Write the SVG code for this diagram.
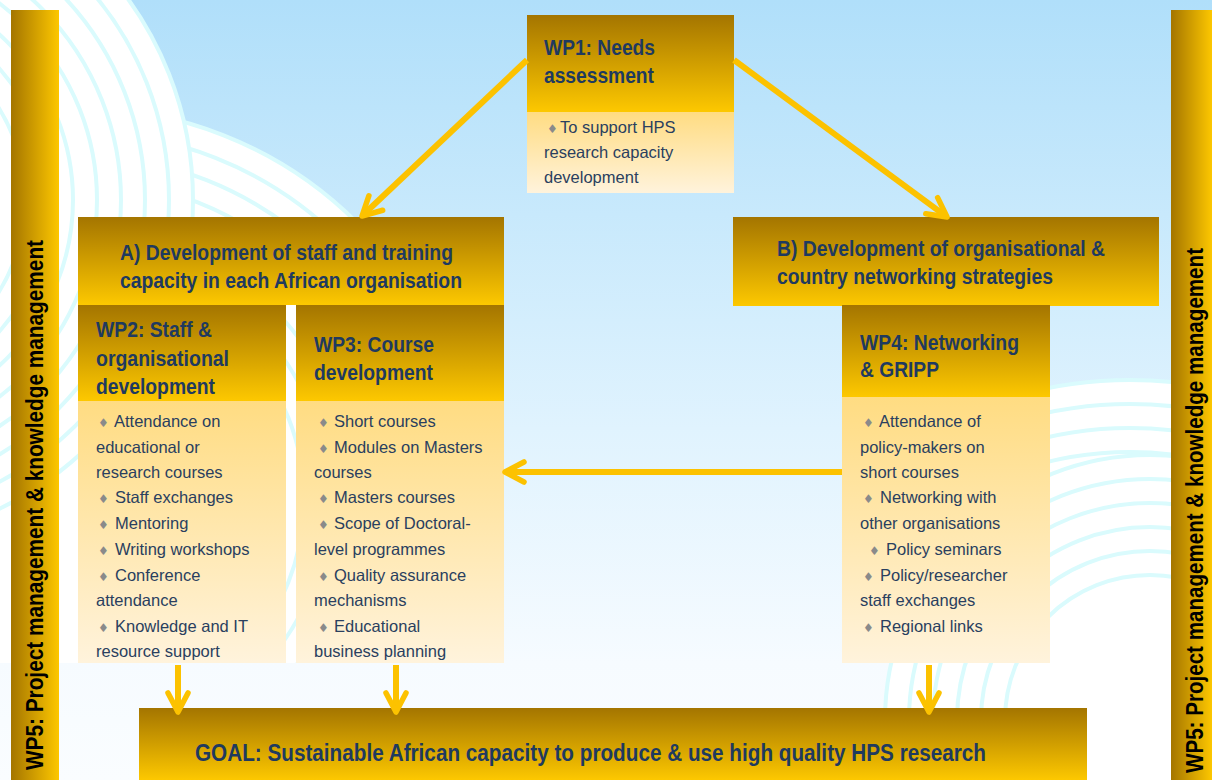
<svg xmlns="http://www.w3.org/2000/svg" width="1212" height="780" viewBox="0 0 1212 780">
<defs>
  <linearGradient id="bg" x1="0" y1="0" x2="0" y2="1">
    <stop offset="0" stop-color="#b0dffa"/>
    <stop offset="0.55" stop-color="#e0f3fe"/>
    <stop offset="0.85" stop-color="#f6fbff"/>
    <stop offset="1" stop-color="#fafdff"/>
  </linearGradient>
  <linearGradient id="hdr" x1="0" y1="0" x2="0" y2="1">
    <stop offset="0" stop-color="#a47500"/>
    <stop offset="1" stop-color="#fdc800"/>
  </linearGradient>
  <linearGradient id="body" x1="0" y1="0" x2="0" y2="1">
    <stop offset="0" stop-color="#ffdc82"/>
    <stop offset="1" stop-color="#fff3dc"/>
  </linearGradient>
  <linearGradient id="side" x1="0" y1="0" x2="1" y2="0">
    <stop offset="0" stop-color="#a47500"/>
    <stop offset="1" stop-color="#fdc700"/>
  </linearGradient>
  <clipPath id="clipB"><rect x="0" y="0" width="520" height="663"/></clipPath>
  <clipPath id="clipC2"><rect x="842" y="0" width="370" height="640"/></clipPath>
  <marker id="ah" viewBox="-24 -14 32 28" refX="0" refY="0" markerWidth="32" markerHeight="28" markerUnits="userSpaceOnUse" orient="auto">
    <path d="M-15,-10 L4,0 L-15,10" fill="none" stroke="#fcc200" stroke-width="5.5" stroke-linecap="round" stroke-linejoin="round"/>
  </marker>
</defs>
<style>
  .t{font-family:"Liberation Sans",Arial,sans-serif;font-weight:bold;font-size:22px;fill:#1f3a5f}
  .g{font-family:"Liberation Sans",Arial,sans-serif;font-weight:bold;font-size:23px;fill:#1f3a5f}
  .b{font-family:"Liberation Sans",Arial,sans-serif;font-size:16.5px;fill:#2a3f5f}
  .d{font-family:"DejaVu Sans",sans-serif;font-size:12px;fill:#8a8a8a}
  .s{font-family:"Liberation Sans",Arial,sans-serif;font-weight:bold;font-size:24px;fill:#000}
  .disk{fill:#ffffff;stroke:#dafbfd;stroke-width:4}
  .ring{fill:none;stroke:#dafbfd;stroke-width:4}
  .hd{fill:url(#hdr)}
  .bd{fill:url(#body)}
  .conn{fill:none;stroke:#fcc200;stroke-width:6;marker-end:url(#ah)}
</style>

<rect x="0" y="0" width="1212" height="780" fill="url(#bg)"/>

<g id="background-swirls">
  <g clip-path="url(#clipB)">
    <circle class="disk" cx="80" cy="500" r="392"/>
    <circle class="ring" cx="80" cy="500" r="368"/>
    <circle class="ring" cx="80" cy="500" r="344"/>
    <circle class="ring" cx="80" cy="500" r="320"/>
    <circle class="ring" cx="80" cy="500" r="296"/>
    <circle class="ring" cx="80" cy="500" r="272"/>
    <circle class="ring" cx="80" cy="500" r="248"/>
    <circle class="ring" cx="80" cy="500" r="224"/>
    <circle class="ring" cx="80" cy="500" r="200"/>
  </g>
  <circle class="disk" cx="-150" cy="200" r="343"/>
  <circle class="ring" cx="-150" cy="200" r="319"/>
  <circle class="ring" cx="-150" cy="200" r="295"/>
  <circle class="ring" cx="-150" cy="200" r="271"/>
  <circle class="ring" cx="-150" cy="200" r="247"/>
  <circle class="ring" cx="-150" cy="200" r="223"/>
  <circle class="ring" cx="-150" cy="200" r="199"/>
  <circle class="ring" cx="-150" cy="200" r="175"/>
  <g clip-path="url(#clipC2)">
    <circle class="disk" cx="1130" cy="800" r="420"/>
    <circle class="ring" cx="1130" cy="800" r="396"/>
    <circle class="ring" cx="1130" cy="800" r="372"/>
    <circle class="ring" cx="1130" cy="800" r="348"/>
    <circle class="ring" cx="1130" cy="800" r="324"/>
    <circle class="ring" cx="1130" cy="800" r="300"/>
  </g>
  <circle class="disk" cx="1150" cy="720" r="265"/>
  <circle class="ring" cx="1150" cy="720" r="241"/>
  <circle class="ring" cx="1150" cy="720" r="217"/>
  <circle class="ring" cx="1150" cy="720" r="193"/>
  <circle class="ring" cx="1150" cy="720" r="169"/>
  <circle class="ring" cx="1150" cy="720" r="145"/>
</g>

<g id="wp5-left">
  <rect x="11" y="10" width="48" height="770" fill="url(#side)"/>
  <text class="s" transform="translate(42.5,770) rotate(-90)" textLength="530" lengthAdjust="spacingAndGlyphs">WP5: Project management &amp; knowledge management</text>
</g>
<g id="wp5-right">
  <rect x="1171" y="10" width="41" height="770" fill="url(#side)"/>
  <text class="s" transform="translate(1203,773) rotate(-90)" textLength="525" lengthAdjust="spacingAndGlyphs">WP5: Project management &amp; knowledge management</text>
</g>

<g id="wp1">
  <rect class="hd" x="527" y="15" width="207" height="97"/>
  <rect class="bd" x="527" y="112" width="207" height="81"/>
  <text class="t" x="544" y="55" textLength="111" lengthAdjust="spacingAndGlyphs">WP1: Needs</text>
  <text class="t" x="544" y="83" textLength="110" lengthAdjust="spacingAndGlyphs">assessment</text>
  <text class="b"><tspan class="d" x="547" y="133">♦</tspan><tspan x="560" y="133">To support HPS</tspan></text>
  <text class="b" x="544" y="158">research capacity</text>
  <text class="b" x="544" y="183">development</text>
</g>

<g id="groupA">
  <rect class="hd" x="78" y="217" width="426" height="88"/>
  <text class="t" x="120" y="260" textLength="333" lengthAdjust="spacingAndGlyphs">A) Development of staff and training</text>
  <text class="t" x="120" y="288" textLength="342" lengthAdjust="spacingAndGlyphs">capacity in each African organisation</text>
</g>

<g id="groupB">
  <rect class="hd" x="733" y="217" width="426" height="89"/>
  <text class="t" x="777" y="256" textLength="328" lengthAdjust="spacingAndGlyphs">B) Development of organisational &amp;</text>
  <text class="t" x="777" y="284" textLength="276" lengthAdjust="spacingAndGlyphs">country networking strategies</text>
</g>

<g id="wp2">
  <rect class="hd" x="78" y="305" width="208" height="96"/>
  <rect class="bd" x="78" y="401" width="208" height="262"/>
  <text class="t" x="96" y="337" textLength="116" lengthAdjust="spacingAndGlyphs">WP2: Staff &amp;</text>
  <text class="t" x="96" y="366" textLength="133" lengthAdjust="spacingAndGlyphs">organisational</text>
  <text class="t" x="96" y="394" textLength="119" lengthAdjust="spacingAndGlyphs">development</text>
  <text class="b"><tspan class="d" x="98" y="427">♦</tspan><tspan x="114" y="427">Attendance on</tspan></text>
  <text class="b" x="96" y="453">educational or</text>
  <text class="b" x="96" y="478">research courses</text>
  <text class="b"><tspan class="d" x="98" y="503">♦</tspan><tspan x="115" y="503">Staff exchanges</tspan></text>
  <text class="b"><tspan class="d" x="98" y="529">♦</tspan><tspan x="115" y="529">Mentoring</tspan></text>
  <text class="b"><tspan class="d" x="98" y="555">♦</tspan><tspan x="115" y="555">Writing workshops</tspan></text>
  <text class="b"><tspan class="d" x="98" y="581">♦</tspan><tspan x="115" y="581">Conference</tspan></text>
  <text class="b" x="96" y="606">attendance</text>
  <text class="b"><tspan class="d" x="98" y="632">♦</tspan><tspan x="115" y="632">Knowledge and IT</tspan></text>
  <text class="b" x="96" y="657">resource support</text>
</g>

<g id="wp3">
  <rect class="hd" x="296" y="305" width="208" height="96"/>
  <rect class="bd" x="296" y="401" width="208" height="262"/>
  <text class="t" x="314" y="352" textLength="120" lengthAdjust="spacingAndGlyphs">WP3: Course</text>
  <text class="t" x="314" y="380" textLength="119" lengthAdjust="spacingAndGlyphs">development</text>
  <text class="b"><tspan class="d" x="318" y="427">♦</tspan><tspan x="334" y="427">Short courses</tspan></text>
  <text class="b"><tspan class="d" x="318" y="453">♦</tspan><tspan x="334" y="453">Modules on Masters</tspan></text>
  <text class="b" x="314" y="478">courses</text>
  <text class="b"><tspan class="d" x="318" y="503">♦</tspan><tspan x="334" y="503">Masters courses</tspan></text>
  <text class="b"><tspan class="d" x="318" y="529">♦</tspan><tspan x="334" y="529">Scope of Doctoral-</tspan></text>
  <text class="b" x="314" y="555">level programmes</text>
  <text class="b"><tspan class="d" x="318" y="581">♦</tspan><tspan x="334" y="581">Quality assurance</tspan></text>
  <text class="b" x="314" y="606">mechanisms</text>
  <text class="b"><tspan class="d" x="318" y="632">♦</tspan><tspan x="334" y="632">Educational</tspan></text>
  <text class="b" x="314" y="657">business planning</text>
</g>

<g id="wp4">
  <rect class="hd" x="842" y="305" width="208" height="92"/>
  <rect class="bd" x="842" y="397" width="208" height="266"/>
  <text class="t" x="860" y="350" textLength="159" lengthAdjust="spacingAndGlyphs">WP4: Networking</text>
  <text class="t" x="860" y="377" textLength="79" lengthAdjust="spacingAndGlyphs">&amp; GRIPP</text>
  <text class="b"><tspan class="d" x="863" y="427">♦</tspan><tspan x="879" y="427">Attendance of</tspan></text>
  <text class="b" x="860" y="453">policy-makers on</text>
  <text class="b" x="860" y="478">short courses</text>
  <text class="b"><tspan class="d" x="863" y="503">♦</tspan><tspan x="880" y="503">Networking with</tspan></text>
  <text class="b" x="860" y="529">other organisations</text>
  <text class="b"><tspan class="d" x="869" y="555">♦</tspan><tspan x="886" y="555">Policy seminars</tspan></text>
  <text class="b"><tspan class="d" x="863" y="581">♦</tspan><tspan x="880" y="581">Policy/researcher</tspan></text>
  <text class="b" x="860" y="606">staff exchanges</text>
  <text class="b"><tspan class="d" x="863" y="632">♦</tspan><tspan x="880" y="632">Regional links</tspan></text>
</g>

<g id="goal">
  <rect class="hd" x="139" y="708" width="948" height="72"/>
  <text class="g" x="195" y="761" textLength="791" lengthAdjust="spacingAndGlyphs">GOAL: Sustainable African capacity to produce &amp; use high quality HPS research</text>
</g>

<g id="connectors">
  <path class="conn" d="M527,60 L364.9,213.3"/>
  <path class="conn" d="M734,60 L943.8,214.6"/>
  <path class="conn" d="M842,472 L509,472"/>
  <path class="conn" d="M178,665 L178,708"/>
  <path class="conn" d="M396,665 L396,708"/>
  <path class="conn" d="M929,665 L929,708"/>
</g>
</svg>
